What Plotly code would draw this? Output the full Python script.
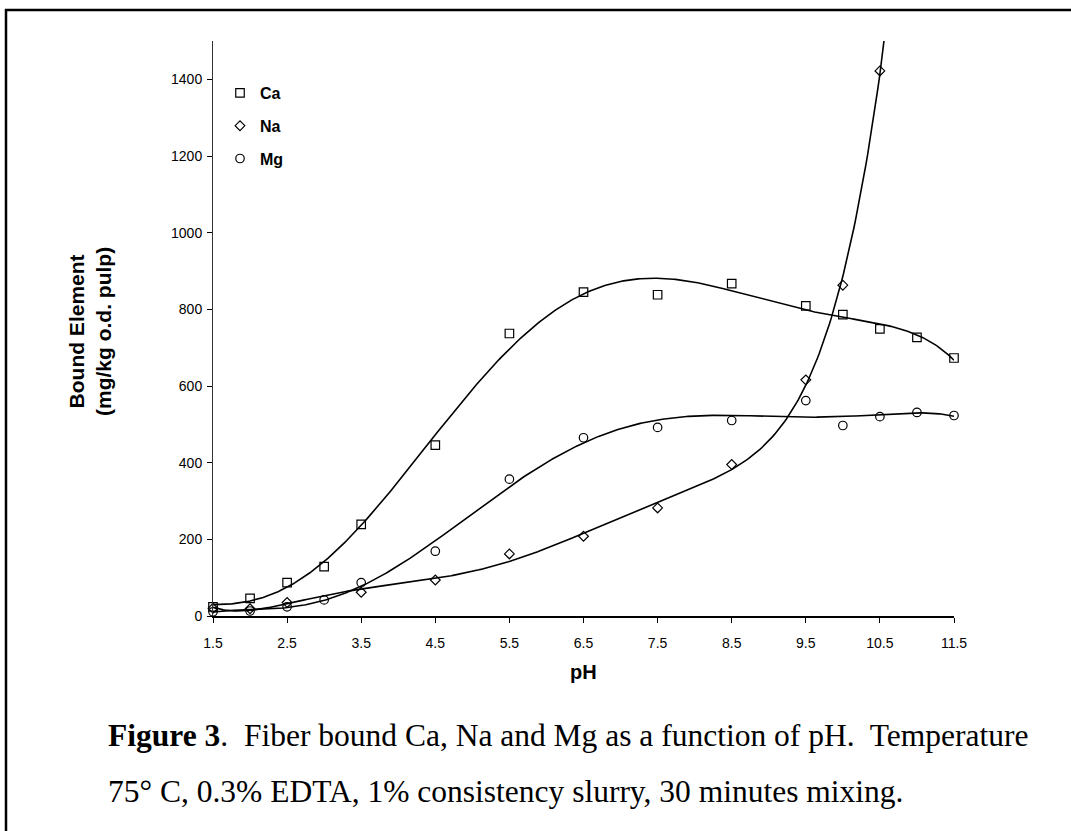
import numpy as np
import plotly.graph_objects as go

# ---- data ----
ph_ca = [1.5, 2.0, 2.5, 3.0, 3.5, 4.5, 5.5, 6.5, 7.5, 8.5, 9.5, 10.0, 10.5, 11.0, 11.5]
ca = [24, 46, 87, 129, 239, 446, 737, 845, 838, 867, 809, 786, 749, 727, 673]

ph_na = [1.5, 2.0, 2.5, 3.5, 4.5, 5.5, 6.5, 7.5, 8.5, 9.5, 10.0, 10.5]
na = [20, 19, 35, 62, 94, 162, 208, 282, 395, 616, 863, 1422]

ph_mg = [1.5, 2.0, 2.5, 3.0, 3.5, 4.5, 5.5, 6.5, 7.5, 8.5, 9.5, 10.0, 10.5, 11.0, 11.5]
mg = [11, 13, 24, 42, 87, 169, 357, 465, 492, 510, 562, 497, 520, 531, 523]

x_ticks = [1.5, 2.5, 3.5, 4.5, 5.5, 6.5, 7.5, 8.5, 9.5, 10.5, 11.5]
y_ticks = [0, 200, 400, 600, 800, 1000, 1200, 1400]

# ---- layout geometry (pixels) ----
W, H = 1071, 831
L, R, T, B = 213, 117, 41, 215
PW, PH = W - L - R, H - T - B


def px_x(p):
    return (p - L) / PW


def px_y(p):
    return (H - B - p) / PH


def trend(xs, ys, deg, x_end):
    c = np.polyfit(xs, ys, deg)
    xx = np.linspace(xs[0], x_end, 400)
    return xx, np.polyval(c, xx)


fig = go.Figure()

series = [
    ("Ca", ph_ca, ca, "square-open", 8.5, 11.5),
    ("Na", ph_na, na, "diamond-open", 7.5, 10.8),
    ("Mg", ph_mg, mg, "circle-open", 8.5, 11.5),
]

for name, xs, ys, sym, size, xend in series:
    xx, yy = trend(xs, ys, 6, xend)
    fig.add_trace(go.Scatter(x=xx, y=yy, mode="lines", line=dict(color="black", width=1.6),
                             showlegend=False, hoverinfo="skip"))

for name, xs, ys, sym, size, xend in series:
    fig.add_trace(go.Scatter(x=xs, y=ys, mode="markers", name=name, legendgroup=name,
                             cliponaxis=False,
                             marker=dict(symbol=sym, size=size, color="black",
                                         line=dict(color="black", width=1.2))))

fig.update_layout(
    width=W, height=H,
    margin=dict(l=L, r=R, t=T, b=B),
    paper_bgcolor="white", plot_bgcolor="white",
    font=dict(family="Liberation Sans, Arial", color="black", size=14),
    showlegend=True,
    legend=dict(x=px_x(220), y=px_y(76), xanchor="left", yanchor="top",
                bgcolor="rgba(0,0,0,0)", itemwidth=30, tracegroupgap=9,
                traceorder="grouped",
                font=dict(family="Liberation Sans, Arial", size=16, color="black", weight="bold")),
    xaxis=dict(range=[1.5, 11.5], tickvals=x_ticks, ticktext=[str(v) for v in x_ticks],
               showgrid=False, zeroline=False, showline=True, linecolor="black", linewidth=1.5,
               ticks="outside", ticklen=5, tickcolor="black", tickfont=dict(size=14),
               ticklabelstandoff=8),
    yaxis=dict(range=[0, 1500], tickvals=y_ticks, showgrid=False, zeroline=False,
               showline=True, linecolor="#333333", linewidth=1, ticks="outside", ticklen=5,
               tickcolor="black", tickfont=dict(size=14), ticklabelstandoff=2),
)

# axis titles
fig.add_annotation(text="<b>Bound Element<br>(mg/kg o.d. pulp)</b>", xref="paper", yref="paper",
                   x=px_x(90), y=px_y(331), textangle=-90, showarrow=False,
                   font=dict(family="Liberation Sans, Arial", size=21, color="black"),
                   xanchor="center", yanchor="middle")
fig.add_annotation(text="<b>pH</b>", xref="paper", yref="paper", x=px_x(583), y=px_y(672),
                   showarrow=False, font=dict(family="Liberation Sans, Arial", size=20, color="black"),
                   xanchor="center", yanchor="middle")

# caption
cap_font = dict(family="Liberation Serif, Times New Roman", size=31.5, color="black")
fig.add_annotation(text="<b>Figure 3</b>.  Fiber bound Ca, Na and Mg as a function of pH.  Temperature",
                   xref="paper", yref="paper", x=px_x(106), y=px_y(735), showarrow=False,
                   xanchor="left", yanchor="middle", font=cap_font)
fig.add_annotation(text="75° C, 0.3% EDTA, 1% consistency slurry, 30 minutes mixing.",
                   xref="paper", yref="paper", x=px_x(106), y=px_y(791), showarrow=False,
                   xanchor="left", yanchor="middle", font=cap_font)

# outer frame (left and top edges visible)
fig.add_shape(type="line", xref="paper", yref="paper", x0=px_x(6), x1=px_x(6),
              y0=px_y(9), y1=px_y(H + 5), line=dict(color="black", width=2.5))
fig.add_shape(type="line", xref="paper", yref="paper", x0=px_x(5), x1=px_x(W + 5),
              y0=px_y(10), y1=px_y(10), line=dict(color="black", width=2.5))

fig.write_html("out.html")
